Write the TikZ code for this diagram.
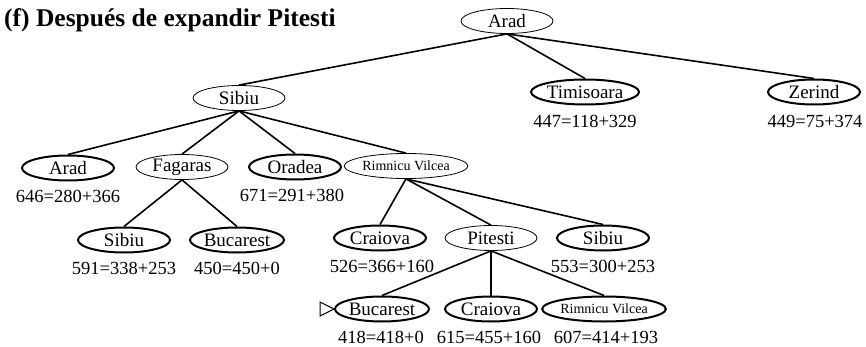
\documentclass[tikz,border=0pt]{standalone}
\usepackage{fontspec}
\setmainfont{Liberation Serif}
\usetikzlibrary{shapes.geometric}
\begin{document}
\begin{tikzpicture}[x=1pt,y=-1pt,
  city/.style={ellipse,draw,line width=0.8pt,minimum width=92pt,minimum height=25pt,inner sep=0pt,font=\fontsize{19}{19}\selectfont},
  leaf/.style={city,line width=2pt},
  small/.style={font=\fontsize{14}{14}\selectfont},
  cost/.style={inner sep=0pt,font=\fontsize{18.5}{18.5}\selectfont},
  edge/.style={line width=1.6pt}]
\useasboundingbox (0,0) rectangle (866,347);
\node[anchor=west,inner sep=0pt,font=\fontsize{25.5}{25.5}\selectfont\bfseries] (title) at (4,20) {(f) Después de expandir Pitesti};
% nodes
\node[city] (a0) at (507,21) {Arad};
\node[city] (s1) at (239,98) {Sibiu};
\node[leaf] (t1) at (585,92) {Timisoara};
\node[leaf] (z1) at (814,92) {Zerind};
\node[leaf] (a2) at (68,168) {Arad};
\node[city] (f2) at (182,167) {Fagaras};
\node[leaf] (o2) at (295,167) {Oradea};
\node[city,small] (r2) at (406,166) {Rimnicu Vilcea};
\node[leaf] (s3) at (124,240) {Sibiu};
\node[leaf] (b3) at (237,240) {Bucarest};
\node[leaf] (c3) at (380,238) {Craiova};
\node[city] (p3) at (491,238) {Pitesti};
\node[leaf] (s4) at (603,238) {Sibiu};
\node[leaf] (b4) at (382,309) {Bucarest};
\node[leaf] (c4) at (491,309) {Craiova};
\node[leaf,small] (r4) at (604,309) {Rimnicu Vilcea};
% costs
\node[cost] (lt1) at (585,121) {447=118+329};
\node[cost] (lz1) at (815,121) {449=75+374};
\node[cost] (la2) at (68,196) {646=280+366};
\node[cost] (lo2) at (292,195) {671=291+380};
\node[cost] (ls3) at (124,268) {591=338+253};
\node[cost] (lb3) at (237,268) {450=450+0};
\node[cost] (lc3) at (382,266) {526=366+160};
\node[cost] (ls4) at (603,266) {553=300+253};
\node[cost] (lb4) at (381,337) {418=418+0};
\node[cost] (lc4) at (489,337) {615=455+160};
\node[cost] (lr4) at (606,337) {607=414+193};
% edges
\foreach \p/\c in {a0/s1,a0/t1,a0/z1,s1/a2,s1/f2,s1/o2,s1/r2,f2/s3,f2/b3,r2/c3,r2/p3,r2/s4,p3/b4,p3/c4,p3/r4}
  \draw[edge] (\p.south) -- (\c.north);
% goal marker
\draw[line width=1pt] (b4.west) -- ++(-14,-7) -- ++(0,14) -- cycle;
\end{tikzpicture}
\end{document}
